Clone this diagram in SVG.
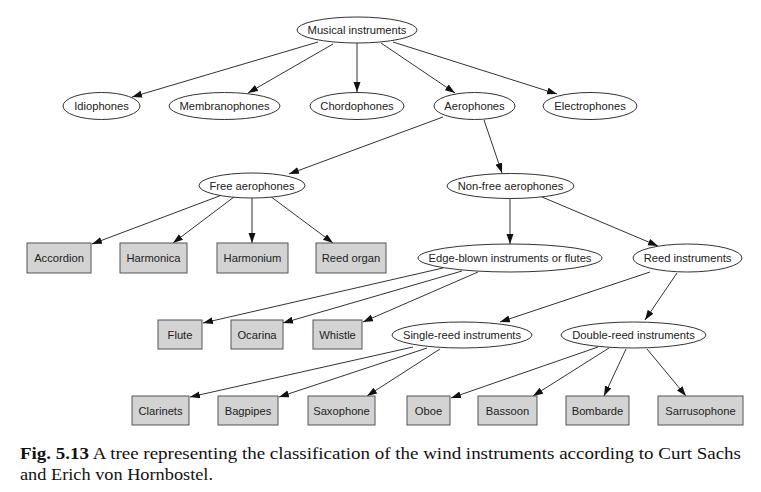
<svg xmlns="http://www.w3.org/2000/svg" width="761" height="492" viewBox="0 0 761 492">
<style>
.e{fill:#fff;stroke:#333;stroke-width:1}
.b{fill:#d3d3d3;stroke:#555;stroke-width:1}
.t{font-family:"Liberation Sans",Arial,sans-serif;font-size:11.2px;fill:#222;text-anchor:middle}
.c line{stroke:#333;stroke-width:1;marker-end:url(#ah)}
.cap{font-family:"Liberation Serif","Times New Roman",serif;font-size:16.5px;fill:#111}
</style>
<defs>
<marker id="ah" markerUnits="userSpaceOnUse" markerWidth="11" markerHeight="8" refX="10" refY="3.5" orient="auto">
<path d="M0,0 L10,3.5 L0,7 z" fill="#111"/>
</marker>
</defs>
<rect width="761" height="492" fill="#fff"/>
<g class="c" id="connectors">
<line x1="318" y1="42" x2="132" y2="97"/>
<line x1="333" y1="44" x2="248" y2="93"/>
<line x1="357" y1="43" x2="357" y2="92"/>
<line x1="381" y1="43" x2="455" y2="93"/>
<line x1="393" y1="42" x2="557" y2="94"/>
<line x1="443" y1="117" x2="289" y2="174"/>
<line x1="484" y1="120" x2="502" y2="173"/>
<line x1="222" y1="195" x2="92" y2="244"/>
<line x1="234" y1="197" x2="173" y2="243"/>
<line x1="252" y1="198" x2="252" y2="243"/>
<line x1="270" y1="196" x2="333" y2="243"/>
<line x1="510" y1="198" x2="510" y2="244"/>
<line x1="542" y1="197" x2="658" y2="246"/>
<line x1="443" y1="268" x2="203" y2="323"/>
<line x1="462" y1="271" x2="283" y2="323"/>
<line x1="478" y1="272" x2="363" y2="322"/>
<line x1="650" y1="272" x2="500" y2="322"/>
<line x1="677" y1="273" x2="645" y2="320"/>
<line x1="413" y1="347" x2="190" y2="397"/>
<line x1="427" y1="348" x2="279" y2="397"/>
<line x1="440" y1="349" x2="367" y2="396"/>
<line x1="598" y1="347" x2="451" y2="398"/>
<line x1="609" y1="348" x2="533" y2="396"/>
<line x1="626" y1="349" x2="604" y2="396"/>
<line x1="647" y1="349" x2="686" y2="396"/>
</g>
<g id="musical"><ellipse class="e" cx="357" cy="30" rx="60" ry="13"/><text class="t" x="357" y="34">Musical instruments</text></g>
<g id="idiophones"><ellipse class="e" cx="101.5" cy="106" rx="38.5" ry="13.5"/><text class="t" x="101.5" y="110">Idiophones</text></g>
<g id="membranophones"><ellipse class="e" cx="224.5" cy="106" rx="55.5" ry="13.5"/><text class="t" x="224.5" y="110">Membranophones</text></g>
<g id="chordophones"><ellipse class="e" cx="357" cy="106" rx="47" ry="13.5"/><text class="t" x="357" y="110">Chordophones</text></g>
<g id="aerophones"><ellipse class="e" cx="474.5" cy="106" rx="40.5" ry="13.5"/><text class="t" x="474.5" y="110">Aerophones</text></g>
<g id="electrophones"><ellipse class="e" cx="590" cy="106" rx="47" ry="13.5"/><text class="t" x="590" y="110">Electrophones</text></g>
<g id="free"><ellipse class="e" cx="252" cy="185.5" rx="53" ry="12.5"/><text class="t" x="252" y="189.5">Free aerophones</text></g>
<g id="nonfree"><ellipse class="e" cx="510.5" cy="186" rx="63.5" ry="12.5"/><text class="t" x="510.5" y="190">Non-free aerophones</text></g>
<g id="edge"><ellipse class="e" cx="510" cy="258" rx="92" ry="14"/><text class="t" x="510" y="262">Edge-blown instruments or flutes</text></g>
<g id="reed"><ellipse class="e" cx="687.5" cy="258" rx="54.5" ry="14"/><text class="t" x="687.5" y="262">Reed instruments</text></g>
<g id="single"><ellipse class="e" cx="462" cy="335" rx="70" ry="13"/><text class="t" x="462" y="339">Single-reed instruments</text></g>
<g id="double"><ellipse class="e" cx="633.5" cy="335" rx="72.5" ry="13"/><text class="t" x="633.5" y="339">Double-reed instruments</text></g>
<g id="accordion"><rect class="b" x="27" y="243" width="64" height="30"/><text class="t" x="59" y="262">Accordion</text></g>
<g id="harmonica"><rect class="b" x="120" y="243" width="67" height="30"/><text class="t" x="153.5" y="262">Harmonica</text></g>
<g id="harmonium"><rect class="b" x="217" y="243" width="71" height="30"/><text class="t" x="252.5" y="262">Harmonium</text></g>
<g id="reedorgan"><rect class="b" x="316" y="243" width="70" height="30"/><text class="t" x="351" y="262">Reed organ</text></g>
<g id="flute"><rect class="b" x="158" y="320" width="44" height="29"/><text class="t" x="180" y="339">Flute</text></g>
<g id="ocarina"><rect class="b" x="231" y="320" width="52" height="29"/><text class="t" x="257" y="339">Ocarina</text></g>
<g id="whistle"><rect class="b" x="313" y="320" width="49" height="29"/><text class="t" x="337.5" y="339">Whistle</text></g>
<g id="clarinets"><rect class="b" x="132" y="396" width="57" height="29"/><text class="t" x="160.5" y="415">Clarinets</text></g>
<g id="bagpipes"><rect class="b" x="218" y="396" width="60" height="29"/><text class="t" x="248" y="415">Bagpipes</text></g>
<g id="saxophone"><rect class="b" x="308" y="396" width="67" height="29"/><text class="t" x="341.5" y="415">Saxophone</text></g>
<g id="oboe"><rect class="b" x="407" y="396" width="43" height="29"/><text class="t" x="428.5" y="415">Oboe</text></g>
<g id="bassoon"><rect class="b" x="478" y="396" width="59" height="29"/><text class="t" x="507.5" y="415">Bassoon</text></g>
<g id="bombarde"><rect class="b" x="566" y="396" width="63" height="29"/><text class="t" x="597.5" y="415">Bombarde</text></g>
<g id="sarrusophone"><rect class="b" x="658" y="396" width="85" height="29"/><text class="t" x="700.5" y="415">Sarrusophone</text></g>
<g id="caption">
<text class="cap" x="20" y="459" textLength="721" lengthAdjust="spacingAndGlyphs"><tspan font-weight="bold">Fig. 5.13</tspan> A tree representing the classification of the wind instruments according to Curt Sachs</text>
<text class="cap" x="20" y="480" textLength="193" lengthAdjust="spacingAndGlyphs">and Erich von Hornbostel.</text>
</g>
</svg>
